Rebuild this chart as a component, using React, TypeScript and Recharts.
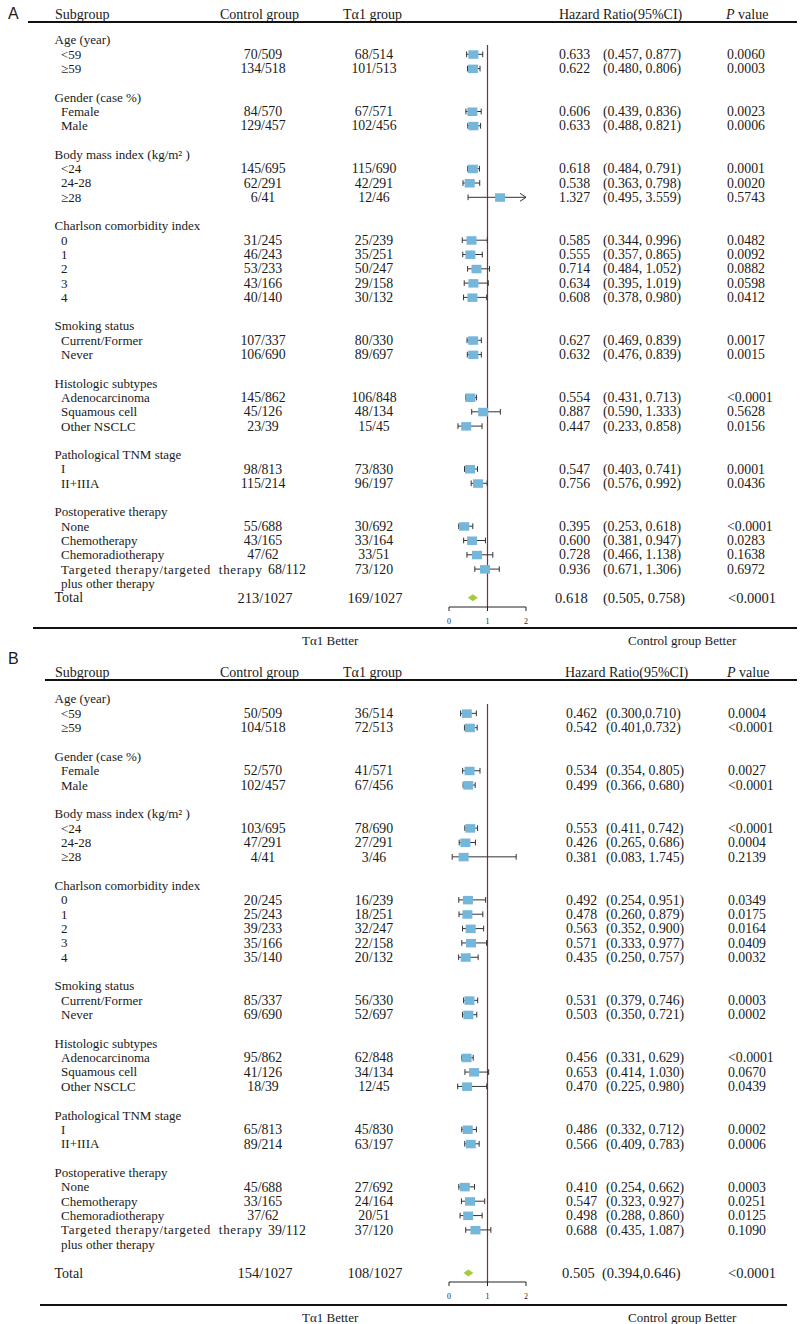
import React from 'react';
import { ComposedChart, XAxis, YAxis, Scatter, ReferenceLine } from 'recharts';

const SERIF = '"Liberation Serif", "Times New Roman", Times, serif';
const SANS = '"Liberation Sans", Arial, sans-serif';
const INK = '#1a1a1a';

// ---------- shared labels ----------
const groupTitles = [
  'Age (year)',
  'Gender (case %)',
  'Body mass index (kg/m² )',
  'Charlson comorbidity index',
  'Smoking status',
  'Histologic subtypes',
  'Pathological TNM stage',
  'Postoperative therapy',
];
const groupItems = [
  ['<59', '≥59'],
  ['Female', 'Male'],
  ['<24', '24-28', '≥28'],
  ['0', '1', '2', '3', '4'],
  ['Current/Former', 'Never'],
  ['Adenocarcinoma', 'Squamous cell', 'Other NSCLC'],
  ['I', 'II+IIIA'],
  ['None', 'Chemotherapy', 'Chemoradiotherapy', 'Targeted therapy/targeted  therapy|plus other therapy'],
];
const headerLabels = ['Subgroup', 'Control group', 'Tα1 group', 'Hazard Ratio(95%CI)', 'value'];
const footerLabels = ['Tα1 Better', 'Control group Better'];
const axisTicks = [0, 1, 2];
const X_MAX = 2;

// ---------- Panel A ----------
const controlA = ['70/509', '134/518', '84/570', '129/457', '145/695', '62/291', '6/41', '31/245', '46/243', '53/233', '43/166', '40/140', '107/337', '106/690', '145/862', '45/126', '23/39', '98/813', '115/214', '55/688', '43/165', '47/62', '68/112'];
const ta1A = ['68/514', '101/513', '67/571', '102/456', '115/690', '42/291', '12/46', '25/239', '35/251', '50/247', '29/158', '30/132', '80/330', '89/697', '106/848', '48/134', '15/45', '73/830', '96/197', '30/692', '33/164', '33/51', '73/120'];
const hrA = [0.633, 0.622, 0.606, 0.633, 0.618, 0.538, 1.327, 0.585, 0.555, 0.714, 0.634, 0.608, 0.627, 0.632, 0.554, 0.887, 0.447, 0.547, 0.756, 0.395, 0.600, 0.728, 0.936];
const loA = [0.457, 0.480, 0.439, 0.488, 0.484, 0.363, 0.495, 0.344, 0.357, 0.484, 0.395, 0.378, 0.469, 0.476, 0.431, 0.590, 0.233, 0.403, 0.576, 0.253, 0.381, 0.466, 0.671];
const hiA = [0.877, 0.806, 0.836, 0.821, 0.791, 0.798, 3.559, 0.996, 0.865, 1.052, 1.019, 0.980, 0.839, 0.839, 0.713, 1.333, 0.858, 0.741, 0.992, 0.618, 0.947, 1.138, 1.306];
const ciA = ['(0.457, 0.877)', '(0.480, 0.806)', '(0.439, 0.836)', '(0.488, 0.821)', '(0.484, 0.791)', '(0.363, 0.798)', '(0.495, 3.559)', '(0.344, 0.996)', '(0.357, 0.865)', '(0.484, 1.052)', '(0.395, 1.019)', '(0.378, 0.980)', '(0.469, 0.839)', '(0.476, 0.839)', '(0.431, 0.713)', '(0.590, 1.333)', '(0.233, 0.858)', '(0.403, 0.741)', '(0.576, 0.992)', '(0.253, 0.618)', '(0.381, 0.947)', '(0.466, 1.138)', '(0.671, 1.306)'];
const pA = ['0.0060', '0.0003', '0.0023', '0.0006', '0.0001', '0.0020', '0.5743', '0.0482', '0.0092', '0.0882', '0.0598', '0.0412', '0.0017', '0.0015', '<0.0001', '0.5628', '0.0156', '0.0001', '0.0436', '<0.0001', '0.0283', '0.1638', '0.6972'];
const totalA = ['213/1027', '169/1027', '(0.505, 0.758)', '<0.0001'];
const totalHrA = [0.618, 0.505, 0.758];

// ---------- Panel B ----------
const controlB = ['50/509', '104/518', '52/570', '102/457', '103/695', '47/291', '4/41', '20/245', '25/243', '39/233', '35/166', '35/140', '85/337', '69/690', '95/862', '41/126', '18/39', '65/813', '89/214', '45/688', '33/165', '37/62', '39/112'];
const ta1B = ['36/514', '72/513', '41/571', '67/456', '78/690', '27/291', '3/46', '16/239', '18/251', '32/247', '22/158', '20/132', '56/330', '52/697', '62/848', '34/134', '12/45', '45/830', '63/197', '27/692', '24/164', '20/51', '37/120'];
const hrB = [0.462, 0.542, 0.534, 0.499, 0.553, 0.426, 0.381, 0.492, 0.478, 0.563, 0.571, 0.435, 0.531, 0.503, 0.456, 0.653, 0.470, 0.486, 0.566, 0.410, 0.547, 0.498, 0.688];
const loB = [0.300, 0.401, 0.354, 0.366, 0.411, 0.265, 0.083, 0.254, 0.260, 0.352, 0.333, 0.250, 0.379, 0.350, 0.331, 0.414, 0.225, 0.332, 0.409, 0.254, 0.323, 0.288, 0.435];
const hiB = [0.710, 0.732, 0.805, 0.680, 0.742, 0.686, 1.745, 0.951, 0.879, 0.900, 0.977, 0.757, 0.746, 0.721, 0.629, 1.030, 0.980, 0.712, 0.783, 0.662, 0.927, 0.860, 1.087];
const ciB = ['(0.300,0.710)', '(0.401,0.732)', '(0.354, 0.805)', '(0.366, 0.680)', '(0.411, 0.742)', '(0.265, 0.686)', '(0.083, 1.745)', '(0.254, 0.951)', '(0.260, 0.879)', '(0.352, 0.900)', '(0.333, 0.977)', '(0.250, 0.757)', '(0.379, 0.746)', '(0.350, 0.721)', '(0.331, 0.629)', '(0.414, 1.030)', '(0.225, 0.980)', '(0.332, 0.712)', '(0.409, 0.783)', '(0.254, 0.662)', '(0.323, 0.927)', '(0.288, 0.860)', '(0.435, 1.087)'];
const pB = ['0.0004', '<0.0001', '0.0027', '<0.0001', '<0.0001', '0.0004', '0.2139', '0.0349', '0.0175', '0.0164', '0.0409', '0.0032', '0.0003', '0.0002', '<0.0001', '0.0670', '0.0439', '0.0002', '0.0006', '0.0003', '0.0251', '0.0125', '0.1090'];
const totalB = ['154/1027', '108/1027', '(0.394,0.646)', '<0.0001'];
const totalHrB = [0.505, 0.394, 0.646];

type Row = {
  kind: 'group' | 'item' | 'cont' | 'total';
  y: number;
  label: string;
  control?: string;
  ta1?: string;
  hr?: number;
  lo?: number;
  hi?: number;
  ci?: string;
  p?: string;
};

function buildRows(
  control: string[], ta1: string[], hr: number[], lo: number[], hi: number[], ci: string[], p: string[],
  total: string[], totalHr: number[], extraGap: number
): Row[] {
  const rows: Row[] = [];
  let r = 0;
  let k = 0;
  groupTitles.forEach((t, gi) => {
    rows.push({ kind: 'group', y: r, label: t });
    r++;
    groupItems[gi].forEach((lbl) => {
      const parts = lbl.split('|');
      rows.push({ kind: 'item', y: r, label: parts[0], control: control[k], ta1: ta1[k], hr: hr[k], lo: lo[k], hi: hi[k], ci: ci[k], p: p[k] });
      if (parts[1]) rows.push({ kind: 'cont', y: r + 1, label: parts[1] });
      r += parts.length;
      k++;
    });
    if (gi < groupTitles.length - 1) r++;
  });
  rows.push({ kind: 'total', y: r + extraGap, label: 'Total', control: total[0], ta1: total[1], hr: totalHr[0], lo: totalHr[1], hi: totalHr[2], ci: total[2], p: total[3] });
  return rows;
}

const rowsA = buildRows(controlA, ta1A, hrA, loA, hiA, ciA, pA, totalA, totalHrA, 0);
const rowsB = buildRows(controlB, ta1B, hrB, loB, hiB, ciB, pB, totalB, totalHrB, 1);

const PX0 = 449;
const PX1 = 526;

type Cfg = {
  height: number;
  mTop: number;
  mBottom: number;
  domain: [number, number];
  cols: { control: number; controlLong: number; ta1: number; hr: number; ci: number; p: number };
  tcols: { control: number; ta1: number; hr: number; ci: number; p: number };
};

const cfgA: Cfg = {
  height: 640,
  mTop: 11.4,
  mBottom: 13,
  domain: [-2, 39.65],
  cols: { control: 263, controlLong: 268, ta1: 374, hr: 559, ci: 603, p: 727 },
  tcols: { control: 265, ta1: 375, hr: 555, ci: 603, p: 728 },
};
const cfgB: Cfg = {
  height: 684,
  mTop: 30.3,
  mBottom: 22,
  domain: [-2, 40.63],
  cols: { control: 263, controlLong: 268, ta1: 374, hr: 566, ci: 606, p: 728 },
  tcols: { control: 265, ta1: 375, hr: 562, ci: 602, p: 728 },
};

const BoxShape = (p: any) => (
  <rect x={p.cx - 5} y={p.cy - 4} width={10} height={8.5} fill="#74b7da" />
);
const DiamondShape = (p: any) => (
  <polygon
    points={`${p.cx - 5},${p.cy} ${p.cx},${p.cy - 3.5} ${p.cx + 5},${p.cy} ${p.cx},${p.cy + 3.5}`}
    fill="#a8cb3e"
  />
);
const ArrowShape = (p: any) => (
  <path d={`M${p.cx - 6},${p.cy - 4} L${p.cx},${p.cy} L${p.cx - 6},${p.cy + 4}`} stroke="#333" strokeWidth={1} fill="none" />
);

const Panel = ({ rows, cfg }: { rows: Row[]; cfg: Cfg }) => {
  const items = rows.filter((r) => r.kind === 'item');
  const total = rows.find((r) => r.kind === 'total')!;
  const textData = rows.map((r) => ({ ...r, x: 0 }));
  const markerData = items.map((r) => ({ x: r.hr, y: r.y }));
  const arrowData = items.filter((r) => (r.hi as number) > X_MAX).map((r) => ({ x: X_MAX, y: r.y }));
  const totalData = [{ x: total.hr, y: total.y }];

  const renderText = (p: any) => {
    const r: Row = p.payload;
    const cy = p.cy;
    const isTotal = r.kind === 'total';
    const fsL = isTotal ? 14 : 13;
    const fsN = isTotal ? 14.5 : 13.8;
    const lx = r.kind === 'item' || r.kind === 'cont' ? 61 : 54.5;
    const cols = isTotal ? cfg.tcols : cfg.cols;
    const long = r.kind === 'item' && r.label.length > 25;
    const common = { fontFamily: SERIF, fill: INK } as any;
    const stretch = long ? { textLength: 201, lengthAdjust: 'spacing' } : {};
    return (
      <g>
        <text x={lx} y={cy} dy="0.34em" fontSize={fsL} {...common} {...stretch} style={{ whiteSpace: 'pre' }}>
          {r.label}
        </text>
        {r.control && (
          <text
            x={long ? cfg.cols.controlLong : cols.control}
            y={cy}
            dy="0.34em"
            fontSize={fsN}
            textAnchor={long ? 'start' : 'middle'}
            {...common}
          >
            {r.control}
          </text>
        )}
        {r.ta1 && (
          <text x={cols.ta1} y={cy} dy="0.34em" fontSize={fsN} textAnchor="middle" {...common}>
            {r.ta1}
          </text>
        )}
        {r.hr !== undefined && (
          <text x={cols.hr} y={cy} dy="0.34em" fontSize={fsN} {...common}>
            {(r.hr as number).toFixed(3)}
          </text>
        )}
        {r.ci && (
          <text x={cols.ci} y={cy} dy="0.34em" fontSize={fsN} {...common}>
            {r.ci}
          </text>
        )}
        {r.p && (
          <text x={cols.p} y={cy} dy="0.34em" fontSize={fsN} {...common}>
            {r.p}
          </text>
        )}
      </g>
    );
  };

  const whiskers = items.flatMap((r) => {
    const lo = r.lo as number;
    const hi = Math.min(r.hi as number, X_MAX);
    const els = [
      <ReferenceLine key={`w${r.y}`} segment={[{ x: lo, y: r.y }, { x: hi, y: r.y }]} stroke="#333" strokeWidth={1} />,
      <ReferenceLine key={`l${r.y}`} segment={[{ x: lo, y: r.y - 0.2 }, { x: lo, y: r.y + 0.2 }]} stroke="#333" strokeWidth={1} />,
    ];
    if ((r.hi as number) <= X_MAX) {
      els.push(
        <ReferenceLine key={`h${r.y}`} segment={[{ x: hi, y: r.y - 0.2 }, { x: hi, y: r.y + 0.2 }]} stroke="#333" strokeWidth={1} />
      );
    }
    return els;
  });

  return (
    <ComposedChart
      width={800}
      height={cfg.height}
      margin={{ top: cfg.mTop, right: 800 - PX1, bottom: cfg.mBottom, left: PX0 }}
    >
      <XAxis
        type="number"
        dataKey="x"
        domain={[0, X_MAX]}
        ticks={axisTicks}
        interval={0}
        tickSize={4}
        tickMargin={7}
        height={20}
        stroke="#222"
        tick={{ fontSize: 8, fontFamily: SERIF, fill: '#222' }}
      />
      <YAxis type="number" dataKey="y" domain={cfg.domain} reversed hide width={0} />
      <ReferenceLine
        segment={[{ x: 1, y: 0.35 }, { x: 1, y: cfg.domain[1] }]}
        stroke="#7d3232"
        strokeWidth={1.2}
      />
      {whiskers}
      <Scatter data={textData} shape={renderText} isAnimationActive={false} />
      <Scatter data={markerData} shape={BoxShape} isAnimationActive={false} />
      <Scatter data={arrowData} shape={ArrowShape} isAnimationActive={false} />
      <Scatter data={totalData} shape={DiamondShape} isAnimationActive={false} />
    </ComposedChart>
  );
};

const Header = ({ y, xs }: { y: number; xs: number[] }) => (
  <g fontFamily={SERIF} fontSize={14} fill={INK}>
    {headerLabels.slice(0, 4).map((t, i) => (
      <text key={t} x={xs[i]} y={y}>
        {t}
      </text>
    ))}
    <text x={xs[4]} y={y}>
      <tspan fontStyle="italic">P</tspan> {headerLabels[4]}
    </text>
  </g>
);

export default function App() {
  return (
    <div style={{ position: 'absolute', left: 0, top: 0, width: 800, height: 1324, background: '#fff', overflow: 'hidden' }}>
      <div style={{ position: 'absolute', left: 0, top: 0 }}>
        <Panel rows={rowsA} cfg={cfgA} />
      </div>
      <div style={{ position: 'absolute', left: 0, top: 640 }}>
        <Panel rows={rowsB} cfg={cfgB} />
      </div>
      <svg width={800} height={1324} style={{ position: 'absolute', left: 0, top: 0, pointerEvents: 'none' }}>
        {/* Panel A */}
        <text x={8} y={19} fontFamily={SANS} fontSize={16} fill={INK}>A</text>
        <Header y={18.8} xs={[55, 220, 343, 559, 726]} />
        <line x1={28} y1={22} x2={797} y2={22} stroke="#111" strokeWidth={2} />
        <line x1={33} y1={628} x2={797} y2={628} stroke="#111" strokeWidth={2} />
        <text x={302} y={644.5} fontFamily={SERIF} fontSize={13} fill={INK}>{footerLabels[0]}</text>
        <text x={628} y={644.5} fontFamily={SERIF} fontSize={13} fill={INK}>{footerLabels[1]}</text>
        {/* Panel B */}
        <text x={8} y={664} fontFamily={SANS} fontSize={16} fill={INK}>B</text>
        <Header y={677} xs={[55, 220, 343, 565, 727]} />
        <line x1={45} y1={680} x2={797} y2={680} stroke="#111" strokeWidth={2} />
        <line x1={40} y1={1305} x2={787} y2={1305} stroke="#111" strokeWidth={2} />
        <text x={302} y={1322} fontFamily={SERIF} fontSize={13} fill={INK}>{footerLabels[0]}</text>
        <text x={628} y={1322} fontFamily={SERIF} fontSize={13} fill={INK}>{footerLabels[1]}</text>
      </svg>
    </div>
  );
}
